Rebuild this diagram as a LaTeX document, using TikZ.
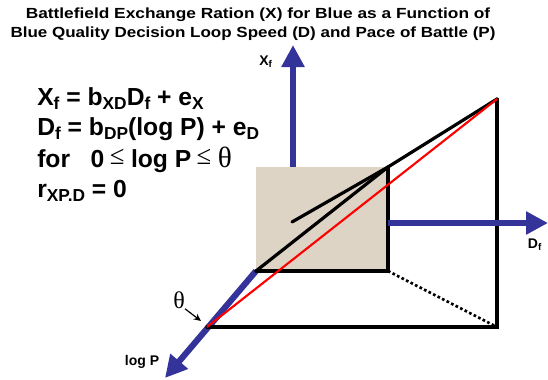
\documentclass[tikz,border=0pt]{standalone}
\usepackage{fontspec}
\setmainfont{Liberation Sans}
\newfontfamily\thetafont{Liberation Serif}
\usetikzlibrary{arrows.meta}
\definecolor{axisblue}{RGB}{51,51,153}
\definecolor{boxbeige}{RGB}{221,212,198}
\newcommand{\eqsub}[1]{\raisebox{-0.18em}{\fontsize{13}{13}\selectfont #1}}
\newcommand{\leqmark}{\hspace{4pt}\smash{\raisebox{2pt}{\thetafont\mdseries\fontsize{20}{20}\selectfont ≤}}\hspace{5pt}}

\begin{document}
\begin{tikzpicture}[x=0.75pt, y=-0.75pt,
	axis/.style={line width=4.6pt, color=axisblue, -{Triangle[length=16.5pt, width=16.5pt]}},
	edge/.style={line width=2.4pt, color=black, line cap=round},
	eq/.style={anchor=base west, inner sep=0pt, font=\fontsize{18.5}{20}\selectfont\bfseries},
	title/.style={anchor=base, inner sep=0pt, font=\fontsize{11}{12}\selectfont\bfseries},
	axislabel/.style={inner sep=0pt, font=\fontsize{10.5}{12}\selectfont\bfseries}]
	\useasboundingbox (0,0) rectangle (548,379);
	% title
	\node[title] (title1) at (258,18) {\scalebox{1.18}[1]{Battlefield Exchange Ration (X) for Blue as a Function of}};
	\node[title] (title2) at (253,37) {\scalebox{1.16}[1]{Blue Quality Decision Loop Speed (D) and Pace of Battle (P)}};
	% equations
	\node[eq] (eqX) at (37,105) {X\eqsub{f} = b\eqsub{XD}D\eqsub{f} + e\eqsub{X}};
	\node[eq] (eqD) at (37,135) {D\eqsub{f} = b\eqsub{DP}(log P) + e\eqsub{D}};
	\node[eq] (eqrange) at (37,167) {for\ \ \ 0\leqmark log P\leqmark\smash{\thetafont\mdseries\fontsize{22}{22}\selectfont θ}};
	\node[eq] (eqr) at (37,197) {r\eqsub{XP.D} = 0};
	% corners of the cube
	\coordinate (boxTL) at (256,167);
	\coordinate (boxTR) at (388,167);
	\coordinate (boxBL) at (256,271);
	\coordinate (boxBR) at (388,271);
	\coordinate (farTop) at (497,99);
	\coordinate (farBot) at (497,327);
	\coordinate (lowcorner) at (207,327);
	\coordinate (inner) at (292,222);
	% axis tips
	\coordinate (xtip) at (293,45);
	\coordinate (dtip) at (548,223);
	\coordinate (ptip) at (165,378);
	\coordinate (dstart) at (388,223);
	\coordinate (xstart) at (293,167);
	% log P axis, behind the box
	\draw[axis] (boxBL) -- (ptip);
	% shaded box
	\fill[color=boxbeige] (boxTL) rectangle (boxBR);
	% edges
	\draw[edge] (boxBL) -- (boxBR) -- (boxTR);
	\draw[edge] (farTop) -- (boxTR) -- (boxBL);
	\draw[edge] (boxTR) -- (inner);
	\draw[edge] (lowcorner) -- (farBot) -- (farTop);
	\draw[line width=2pt, dash pattern=on 2pt off 1.8pt] (boxBR) -- (farBot);
	\draw[line width=1.6pt, color=red] (lowcorner) -- (farTop);
	% X and D axes
	\draw[axis] (xstart) -- (xtip);
	\draw[axis] (dstart) -- (dtip);
	% axis labels
	\node[axislabel] (xlabel) at (266,62) {X\textsubscript{f}};
	\node[axislabel] (dlabel) at (535,245) {D\textsubscript{f}};
	\node[axislabel] (plabel) at (142,362) {log P};
	% theta mark
	\node[inner sep=0pt, font=\thetafont\fontsize{18}{18}\selectfont] (thetalabel) at (179,300) {θ};
	\coordinate (thetatip) at (201,321);
	\draw[line width=0.9pt, -{Stealth[length=5.5pt, width=5pt]}] (thetalabel.south east) -- (thetatip);
\end{tikzpicture}
\end{document}
